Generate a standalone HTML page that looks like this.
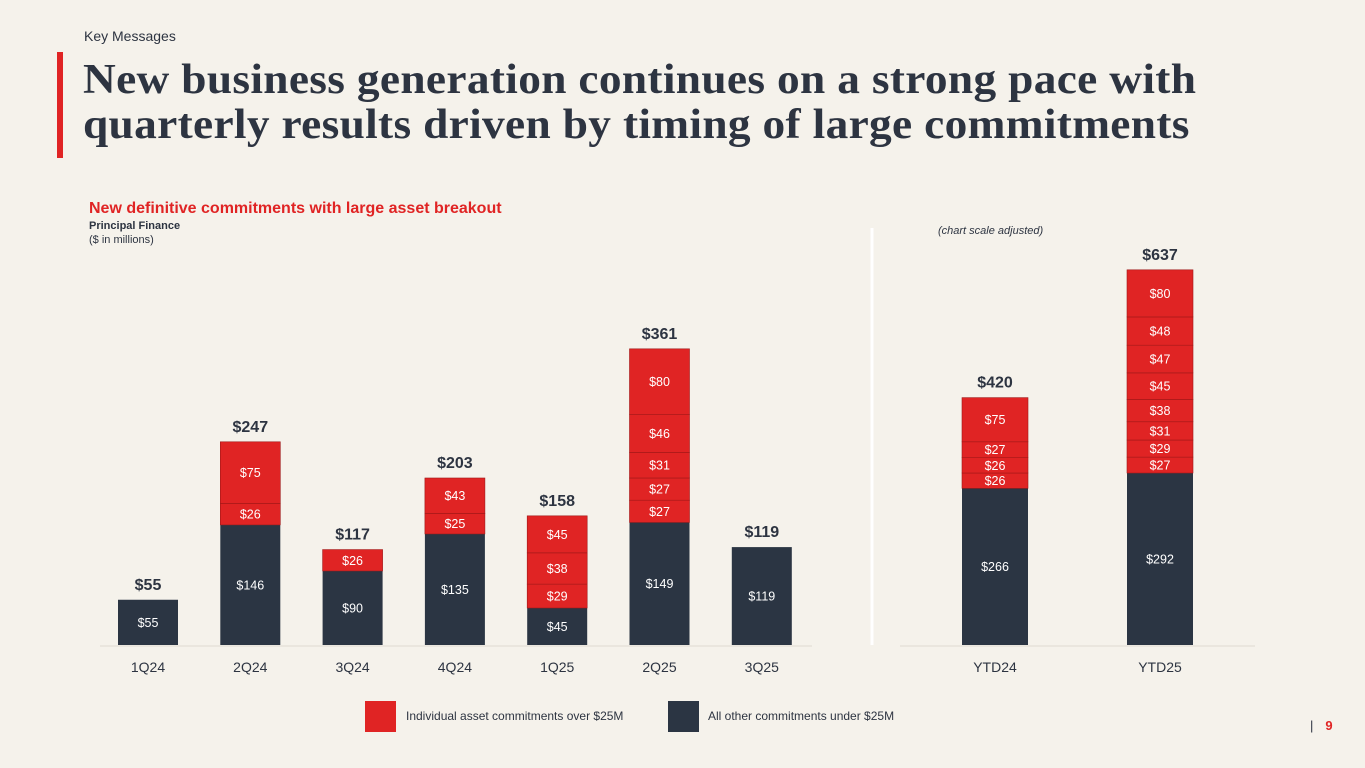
<!DOCTYPE html>
<html><head><meta charset="utf-8">
<style>
body{margin:0;width:1365px;height:768px;background:#f5f2eb;position:relative;overflow:hidden;font-family:"Liberation Sans",sans-serif;}
.abs{position:absolute;}
</style></head>
<body>
<div class="abs" style="left:84px;top:28px;font-size:14px;color:#2d3441;">Key Messages</div>
<div class="abs" style="left:57px;top:52px;width:6px;height:106px;background:#e02424;"></div>
<div class="abs" style="left:83px;top:58px;font-family:'Liberation Serif',serif;font-weight:bold;font-size:42px;letter-spacing:0.3px;line-height:45px;color:#2d3441;white-space:nowrap;transform:scaleX(1.08);transform-origin:0 0;">New business generation continues on a strong pace with<br>quarterly results driven by timing of large commitments</div>
<div class="abs" style="left:89px;top:200px;font-size:16px;font-weight:bold;color:#e02424;">New definitive commitments with large asset breakout</div>
<div class="abs" style="left:89px;top:220px;font-size:11px;font-weight:bold;color:#2d3441;">Principal Finance</div>
<div class="abs" style="left:89px;top:234px;font-size:11px;color:#2d3441;">($ in millions)</div>
<div class="abs" style="left:938px;top:225px;font-size:11px;font-style:italic;color:#2d3441;">(chart scale adjusted)</div>
<div class="abs" style="left:1310px;top:718px;font-size:13px;color:#e02424;font-weight:bold;"><span style="color:#2d3441;font-weight:normal;margin-right:12px;">|</span>9</div>
<svg class="abs" style="left:0;top:0" width="1365" height="768" id="chart"></svg>
<script>
const categories=["1Q24","2Q24","3Q24","4Q24","1Q25","2Q25","3Q25"];
const darkValues=[55,146,90,135,45,149,119];
const redValues=[[],[26,75],[26],[25,43],[29,38,45],[27,27,31,46,80],[]];
const totals=[55,247,117,203,158,361,119];
const ytdCategories=["YTD24","YTD25"];
const ytdDark=[266,292];
const ytdRed=[[26,26,27,75],[27,29,31,38,45,47,48,80]];
const ytdTotals=[420,637];

const NS="http://www.w3.org/2000/svg";
const svg=document.getElementById('chart');
const DARK="#2b3543",RED="#e02424";
function mk(t,a,txt){const e=document.createElementNS(NS,t);for(const k in a)e.setAttribute(k,a[k]);if(txt!=null)e.textContent=txt;svg.appendChild(e);return e;}
const base=645;
const yL=v=>v*0.8227;
const xL=i=>118+i*102.3;
const yR=v=>v*0.589;
const xR=i=>962+i*165;

function drawBar(x,w,dark,reds,total,yf,name,cat){
  let y=base;
  const segs=[[dark,DARK]].concat(reds.map(r=>[r,RED]));
  segs.forEach((s,j)=>{
    const h=yf(s[0]);y-=h;
    const r=mk('rect',{x:x,y:y,width:w,height:h,fill:s[1],stroke:s[1]==RED?'#a01818':'none','stroke-width':0.6});
    
    
    const t=mk('text',{x:x+w/2,y:y+h/2+4.5,'text-anchor':'middle','font-size':12.5,fill:'#fff','font-family':'Liberation Sans, sans-serif'},'$'+s[0]);
    
    
  });
  const tt=mk('text',{x:x+w/2,y:y-10,'text-anchor':'middle','font-size':16,'font-weight':'bold',fill:'#2d3441','font-family':'Liberation Sans, sans-serif'},'$'+total);
  
  
  const c=mk('text',{x:x+w/2,y:672,'text-anchor':'middle','font-size':14,fill:'#2d3441','font-family':'Liberation Sans, sans-serif'},cat);
  
  
}
const ax1=mk('line',{x1:100,x2:812,y1:base+1,y2:base+1,stroke:'#dedad2','stroke-width':1});


const ax2=mk('line',{x1:900,x2:1255,y1:base+1,y2:base+1,stroke:'#dedad2','stroke-width':1});


const dv=mk('line',{x1:872,x2:872,y1:228,y2:645,stroke:'#ffffff','stroke-width':3});


categories.forEach((c,i)=>drawBar(xL(i),60,darkValues[i],redValues[i],totals[i],yL,'bar-'+c.toLowerCase(),c));
ytdCategories.forEach((c,i)=>drawBar(xR(i),66,ytdDark[i],ytdRed[i],ytdTotals[i],yR,'bar-'+c.toLowerCase(),c));
</script>
<div class="abs" style="left:365px;top:701px;height:30px;display:flex;align-items:center;font-size:12px;color:#2d3441;"><span style="width:31px;height:31px;background:#e02424;margin-right:10px;"></span>Individual asset commitments over $25M</div>
<div class="abs" style="left:668px;top:701px;height:30px;display:flex;align-items:center;font-size:12px;color:#2d3441;"><span style="width:31px;height:31px;background:#2b3543;margin-right:9px;"></span>All other commitments under $25M</div>
</body></html>
